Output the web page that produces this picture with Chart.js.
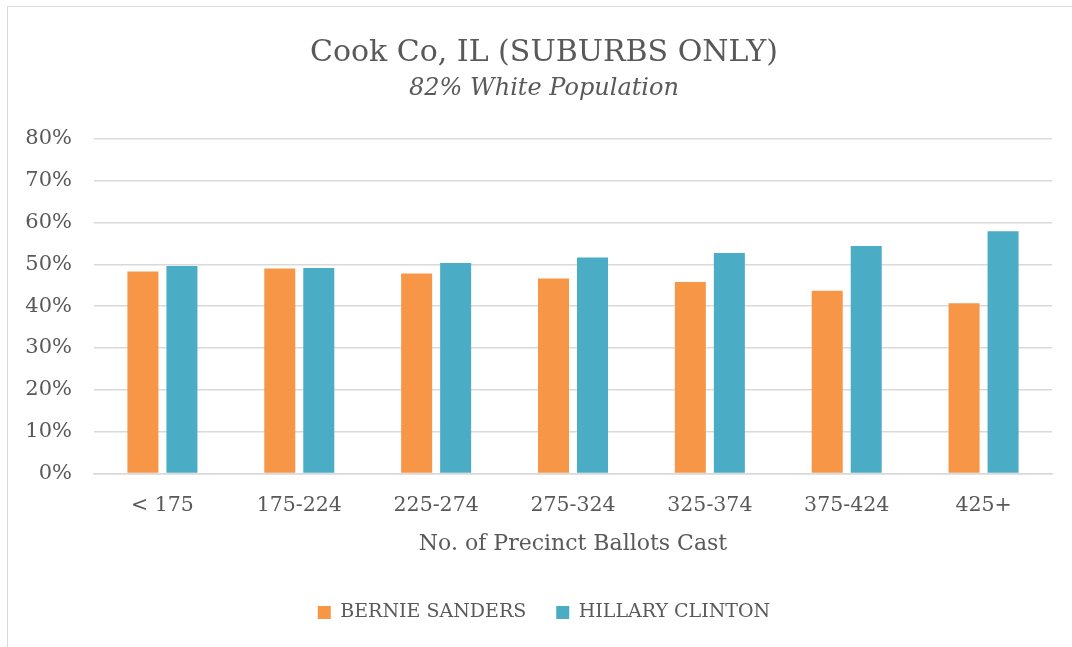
<!DOCTYPE html>
<html>
<head>
<meta charset="utf-8">
<script src="https://cdn.jsdelivr.net/npm/chart.js@4/dist/chart.umd.min.js"></script>
<style>
  html, body { margin: 0; padding: 0; background: #fff; overflow: hidden; }
  #frame {
    position: absolute; left: 7px; top: 6px;
    width: 1080px; height: 660px;
    border: 1px solid #d9d9d9;
  }
  #frame canvas { display: block; }
</style>
</head>
<body>
<div id="frame">
  <canvas id="chart" width="1072" height="640"></canvas>
</div>
<script>
const categories = ['< 175', '175-224', '225-274', '275-324', '325-374', '375-424', '425+'];
const bernie = [48.3, 49.0, 47.8, 46.6, 45.8, 43.7, 40.7];
const hillary = [49.6, 49.1, 50.3, 51.6, 52.7, 54.4, 57.9];
const yTicks = [0, 10, 20, 30, 40, 50, 60, 70, 80];

const textColor = '#595959';
const gridColor = '#d9d9d9';
const serif = '"DejaVu Serif", serif';

const ctx = document.getElementById('chart');
const chart = new Chart(ctx, {
  type: 'bar',
  data: {
    labels: categories,
    datasets: [
      {
        label: 'BERNIE SANDERS',
        data: bernie,
        backgroundColor: '#F79646',
        categoryPercentage: 0.57,
        barPercentage: 0.795,
      },
      {
        label: 'HILLARY CLINTON',
        data: hillary,
        backgroundColor: '#4BACC6',
        categoryPercentage: 0.57,
        barPercentage: 0.795,
      },
    ],
  },
  options: {
    responsive: false,
    animation: false,
    layout: {
      padding: { left: 28, right: 28, top: 0, bottom: 15 },
    },
    plugins: {
      title: {
        display: true,
        text: 'Cook Co, IL (SUBURBS ONLY)',
        color: textColor,
        font: { family: serif, size: 30, weight: 'normal' },
        padding: { top: 28, bottom: 3 },
      },
      subtitle: {
        display: true,
        text: '82% White Population',
        color: textColor,
        font: { family: serif, size: 24, style: 'italic', weight: 'normal' },
        padding: { top: 0, bottom: 36 },
      },
      legend: {
        position: 'bottom',
        labels: {
          color: textColor,
          font: { family: serif, size: 19 },
          boxWidth: 13,
          boxHeight: 13,
          padding: 30,
        },
      },
      tooltip: { enabled: false },
    },
    scales: {
      x: {
        grid: { display: false, drawTicks: false },
        border: { color: gridColor, width: 1.5 },
        ticks: {
          color: textColor,
          font: { family: serif, size: 20.5, lineHeight: 1 },
          padding: 22,
        },
        title: {
          display: true,
          text: 'No. of Precinct Ballots Cast',
          color: textColor,
          font: { family: serif, size: 22, lineHeight: 1 },
          padding: { top: -5, bottom: 18 },
        },
      },
      y: {
        min: 0,
        max: 80,
        afterFit(scale) { scale.width = 58; },
        // let the % labels spill into the left padding instead of being clipped
        afterUpdate(scale) { scale._computeLabelArea = () => undefined; },
        afterBuildTicks(scale) { scale.ticks = yTicks.map(v => ({ value: v })); },
        grid: { color: gridColor, lineWidth: 1.5, drawTicks: false },
        border: { display: false },
        ticks: {
          color: textColor,
          font: { family: serif, size: 21 },
          padding: 22,
          callback: v => v + '%',
        },
      },
    },
  },
});
</script>
</body>
</html>
